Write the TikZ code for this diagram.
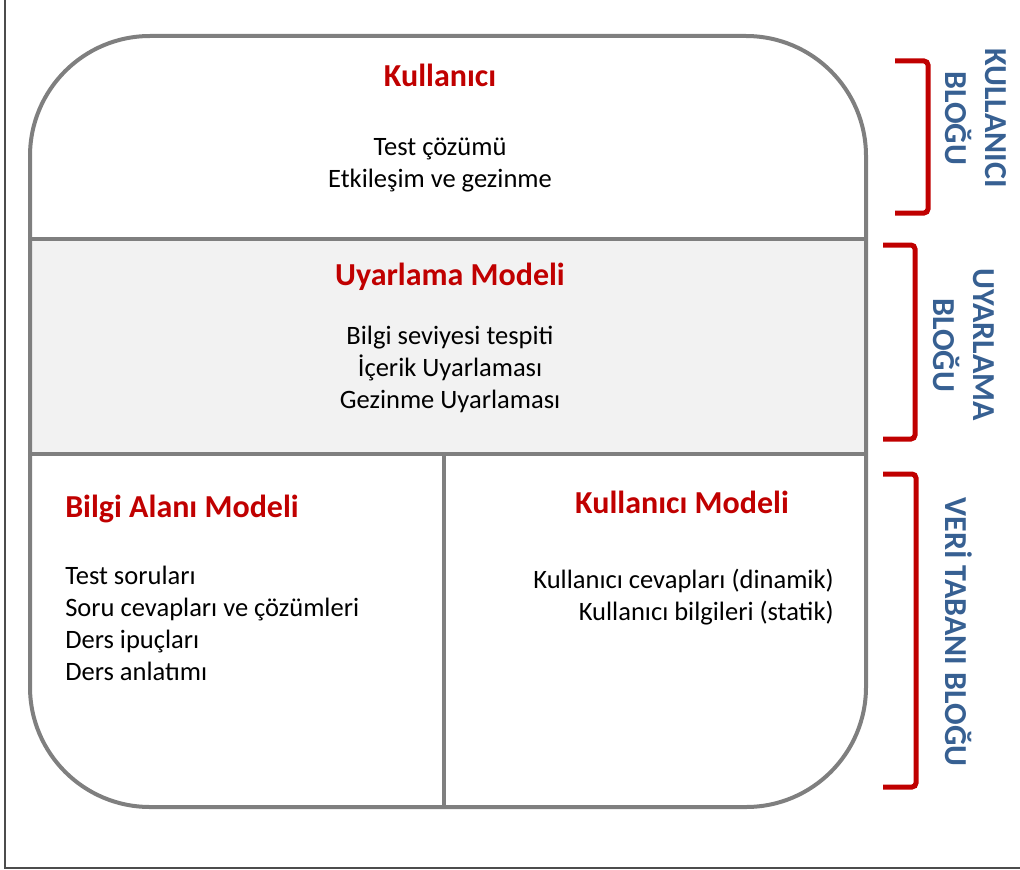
\documentclass[tikz,border=0pt]{standalone}
\usepackage{fontspec}
\setmainfont{Carlito}
\definecolor{koyukirmizi}{HTML}{C00000}
\definecolor{mavi}{HTML}{376092}
\definecolor{gri}{HTML}{7F7F7F}
\definecolor{acikgri}{HTML}{F2F2F2}
\begin{document}
\begin{tikzpicture}[x=0.75pt,y=0.75pt,
    baslik/.style={font=\fontsize{24}{29}\selectfont\bfseries,text=koyukirmizi,inner sep=0pt},
    metin/.style={font=\fontsize{19.9}{24}\selectfont,inner sep=0pt},
    blok/.style={font=\fontsize{24}{30}\selectfont\bfseries,text=mavi,inner sep=0pt,rotate=-90,align=center},
    parantez/.style={koyukirmizi,line width=3.75pt,rounded corners=3pt}]
\useasboundingbox (0,0) rectangle (1020,-870);
%Outer frame, only the left and bottom edges show
    \draw[black!70,line width=1.2pt] (5,0) -- (5,-868) -- (1020,-868);
%Gray band of the middle block
    \fill[acikgri] (30,-239) rectangle (866,-454);
%Rounded box and its dividing lines
    \draw[gri,line width=3pt,rounded corners=90pt] (30,-36) rectangle (866,-807);
    \draw[gri,line width=3pt] (30,-239) -- (866,-239);
    \draw[gri,line width=3pt] (30,-454) -- (866,-454);
    \draw[gri,line width=3pt] (444,-454) -- (444,-807);

%Top block (base of a multi-line node is its last line)
    \node[baslik,anchor=base] (kullanici) at (440,-87) {Kullanıcı};
    \node[metin,align=center,anchor=base] (kullanicimetin) at (440,-187)
        {Test çözümü\\Etkileşim ve gezinme};
%Middle block
    \node[baslik,anchor=base] (uyarlama) at (450,-285) {Uyarlama Modeli};
    \node[metin,align=center,anchor=base] (uyarlamametin) at (450,-408)
        {Bilgi seviyesi tespiti\\İçerik Uyarlaması\\Gezinme Uyarlaması};
%Bottom blocks
    \node[baslik,anchor=base west] (bilgialani) at (65,-517) {Bilgi Alanı Modeli};
    \node[metin,align=left,anchor=base west] (bilgimetin) at (65,-680)
        {Test soruları\\Soru cevapları ve çözümleri\\Ders ipuçları\\Ders anlatımı};
    \node[baslik,anchor=base] (kullanicimodeli) at (682,-513) {Kullanıcı Modeli};
    \node[metin,align=right,anchor=base east] (kullanicimetin2) at (834,-620)
        {Kullanıcı cevapları (dinamik)\\Kullanıcı bilgileri (statik)};

%Red brackets on the right
     \foreach \ust/\alt/\sol/\sag in {61/213/895/928,245/439/883/915,474/787/883/916}
        {
        \draw[parantez] (\sol,-\ust) -- (\sag,-\ust) -- (\sag,-\alt) -- (\sol,-\alt);
    }
%Block names
    \node[blok] (kullaniciblogu) at (976,-118) {KULLANICI\\BLOĞU};
    \node[blok] (uyarlamablogu) at (964,-345) {UYARLAMA\\BLOĞU};
    \node[blok,anchor=base] (veritabani) at (945,-632) {VERİ TABANI BLOĞU};
\end{tikzpicture}
\end{document}
